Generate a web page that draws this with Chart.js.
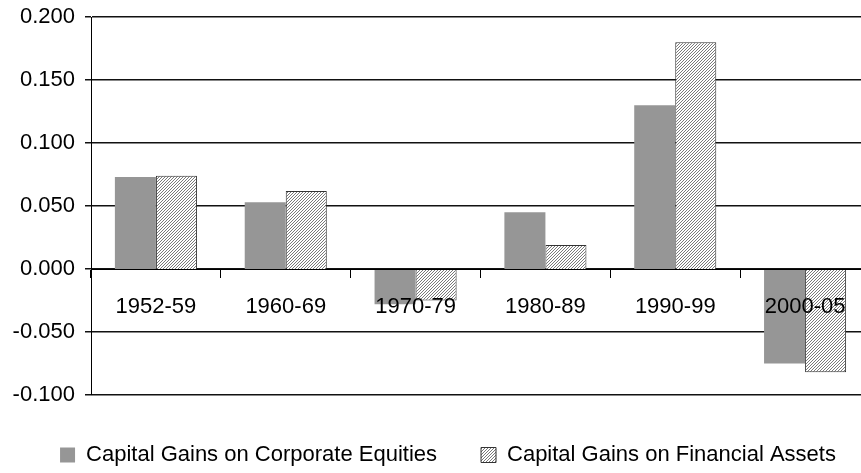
<!DOCTYPE html>
<html>
<head>
<meta charset="utf-8">
<script src="https://cdn.jsdelivr.net/npm/chart.js@4/dist/chart.umd.min.js"></script>
<style>
  html, body { margin: 0; padding: 0; overflow: hidden; background: #fff; }
  #contenedor { width: 876px; height: 473px; }
</style>
</head>
<body>
<div id="contenedor"><canvas id="grafico-ganancias" width="876" height="473"></canvas></div>
<script>
// Datos del gráfico
const periodos = ['1952-59', '1960-69', '1970-79', '1980-89', '1990-99', '2000-05'];
const gananciasAcciones = [0.073, 0.053, -0.028, 0.045, 0.130, -0.075];
const gananciasActivos = [0.074, 0.062, -0.025, 0.019, 0.180, -0.082];
const etiquetasSeries = ['Capital Gains on Corporate Equities', 'Capital Gains on Financial Assets'];
const ejeYMin = -0.1;
const ejeYMax = 0.2;
const ejeYPaso = 0.05;

Chart.defaults.font.family = '"Liberation Sans", Arial, sans-serif';
Chart.defaults.font.size = 22;
Chart.defaults.color = '#000';

/**
 * Crea el patrón rayado para la segunda serie
 * @returns {CanvasPattern}
 */
function crearPatronRayado() {
  const lienzo = document.createElement('canvas');
  lienzo.width = 3;
  lienzo.height = 3;
  const ctx = lienzo.getContext('2d');
  ctx.fillStyle = '#fff';
  ctx.fillRect(0, 0, 3, 3);
  ctx.strokeStyle = '#7a7a7a';
  ctx.lineWidth = 1;
  ctx.beginPath();
  ctx.moveTo(-1, 4); ctx.lineTo(4, -1);
  ctx.moveTo(-1, 1); ctx.lineTo(1, -1);
  ctx.moveTo(2, 4); ctx.lineTo(4, 2);
  ctx.stroke();
  return ctx.createPattern(lienzo, 'repeat');
}

// Mueve la leyenda a su sitio (centrada bajo el gráfico)
const ajusteLeyenda = {
  id: 'ajusteLeyenda',
  afterLayout(chart) {
    const leyenda = chart.legend;
    if (!leyenda) return;
    leyenda.left += 13;
    leyenda.right += 13;
    const alto = leyenda.height;
    leyenda.top = 400;
    leyenda.bottom = 400 + alto;
  }
};

/**
 * Genera el gráfico de barras de ganancias de capital
 */
function generarGraficoGanancias() {
  const canvas = document.getElementById('grafico-ganancias');
  if (!canvas) return;

  new Chart(canvas, {
    type: 'bar',
    data: {
      labels: periodos,
      datasets: [
        {
          label: etiquetasSeries[0],
          data: gananciasAcciones,
          backgroundColor: '#969696',
          borderWidth: 0
        },
        {
          label: etiquetasSeries[1],
          data: gananciasActivos,
          backgroundColor: crearPatronRayado(),
          borderColor: '#333',
          borderWidth: 1
        }
      ]
    },
    plugins: [ajusteLeyenda],
    options: {
      responsive: false,
      animation: false,
      devicePixelRatio: 1,
      layout: {
        padding: { top: 17, left: 0, right: 6, bottom: 2 }
      },
      datasets: {
        bar: { categoryPercentage: 0.632, barPercentage: 1.0 }
      },
      plugins: {
        tooltip: { enabled: false },
        legend: {
          position: 'bottom',
          labels: {
            boxWidth: 15,
            boxHeight: 15,
            padding: 44,
            font: { size: 22 }
          }
        }
      },
      scales: {
        x: {
          position: { y: 0 },
          offset: true,
          border: { display: true, color: '#000', width: 1, z: 1 },
          grid: {
            display: true,
            offset: true,
            drawOnChartArea: false,
            drawTicks: true,
            tickLength: 8,
            color: '#000'
          },
          // etiquetas por encima de las barras
          ticks: { z: 1, padding: 17, maxRotation: 0, autoSkip: false, font: { size: 22 } }
        },
        y: {
          min: ejeYMin,
          max: ejeYMax,
          afterFit: function(escala) {
            escala.width = 91;
            escala.paddingTop = 0;
            escala.paddingBottom = 0;
          },
          border: { display: true, color: '#000', width: 1 },
          grid: {
            color: '#111',
            lineWidth: 1.5,
            tickLength: 6
          },
          ticks: {
            stepSize: ejeYPaso,
            padding: 10,
            font: { size: 22 },
            callback: function(valor) {
              return valor.toFixed(3);
            }
          }
        }
      }
    }
  });
}

generarGraficoGanancias();
</script>
</body>
</html>
